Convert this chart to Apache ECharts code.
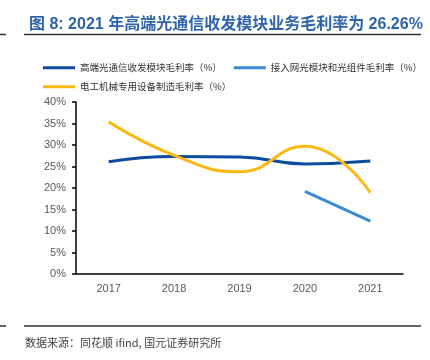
<!DOCTYPE html>
<html><head><meta charset="utf-8">
<script src="https://cdn.jsdelivr.net/npm/echarts@6/dist/echarts.min.js"></script>
<style>html,body{margin:0;padding:0;background:#fff}#c{width:430px;height:360px}</style>
</head><body><div id="c"></div>
<script>
const categories = ['2017','2018','2019','2020','2021'];
const highEnd = [26.1, 27.3, 27.2, 25.6, 26.26];
const access = [null, null, null, 19.2, 12.3];
const electrical = [35.4, 27.6, 23.8, 29.7, 18.9];
const yTicks = [0,5,10,15,20,25,30,35,40];
const names = ['高端光通信收发模块毛利率（%）','接入网光模块和光组件毛利率（%）','电工机械专用设备制造毛利率（%）'];
const titleText = '图 8: 2021 年高端光通信收发模块业务毛利率为 26.26%';
const sourceText = '数据来源：同花顺 ifind, 国元证券研究所';

const chart = echarts.init(document.getElementById('c'));
const ff = 'Liberation Sans, Arial, Noto Sans CJK SC, sans-serif';
const legendText = {fontSize: 9.5, color: '#333', fontFamily: 'Noto Sans CJK SC, sans-serif'};
chart.setOption({
  animation: false,
  title: {
    text: titleText, left: 24, top: 12,
    textStyle: {fontSize: 16, fontWeight: 'bold', color: '#2f63ad', fontFamily: ff}
  },
  legend: [
    {data: [names[0], names[1]], left: 38, top: 58, width: 420, orient: 'horizontal', icon: 'rect', itemWidth: 32, itemHeight: 3, itemGap: 12, textStyle: legendText},
    {data: [names[2]], left: 38, top: 77, width: 420, icon: 'rect', itemWidth: 32, itemHeight: 3, textStyle: legendText}
  ],
  grid: {left: 76, right: 27, top: 102, bottom: 86, containLabel: false},
  xAxis: {
    type: 'category', data: categories, boundaryGap: true,
    axisLine: {lineStyle: {color: '#000', width: 1.5}},
    axisTick: {inside: true, length: 4, lineStyle: {color: '#000', width: 1.5}},
    axisLabel: {color: '#595959', fontSize: 11, margin: 9, fontFamily: ff}
  },
  yAxis: {
    type: 'value', min: yTicks[0], max: yTicks[yTicks.length-1], interval: 5,
    axisLine: {show: true, lineStyle: {color: '#000', width: 1.5}},
    axisTick: {show: true, length: 4, lineStyle: {color: '#000', width: 1.5}},
    splitLine: {show: false},
    axisLabel: {color: '#595959', fontSize: 11, margin: 10, fontFamily: ff, formatter: v => v + '%'}
  },
  series: [
    {name: names[0], type: 'line', data: highEnd, smooth: true, showSymbol: false, symbol: 'none', lineStyle: {width: 3, color: '#0d4b9e'}, itemStyle: {color: '#0d4b9e'}},
    {name: names[1], type: 'line', data: access, smooth: true, showSymbol: false, symbol: 'none', lineStyle: {width: 3, color: '#3a8ad6'}, itemStyle: {color: '#3a8ad6'}},
    {name: names[2], type: 'line', data: electrical, smooth: true, showSymbol: false, symbol: 'none', lineStyle: {width: 3, color: '#fdb913'}, itemStyle: {color: '#fdb913'}}
  ],
  graphic: [
    {type: 'line', shape: {x1: 24, y1: 34.5, x2: 421, y2: 34.5}, style: {stroke: '#333', lineWidth: 1.5}},
    {type: 'line', shape: {x1: 0, y1: 34.5, x2: 6, y2: 34.5}, style: {stroke: '#333', lineWidth: 1.5}},
    {type: 'line', shape: {x1: 24, y1: 326, x2: 421, y2: 326}, style: {stroke: '#333', lineWidth: 1.5}},
    {type: 'line', shape: {x1: 0, y1: 326, x2: 6, y2: 326}, style: {stroke: '#333', lineWidth: 1.5}},
    {type: 'text', left: 25, top: 337, style: {text: sourceText, fontSize: 11, fill: '#444', fontFamily: 'Noto Sans CJK SC, sans-serif'}}
  ]
});
</script></body></html>
